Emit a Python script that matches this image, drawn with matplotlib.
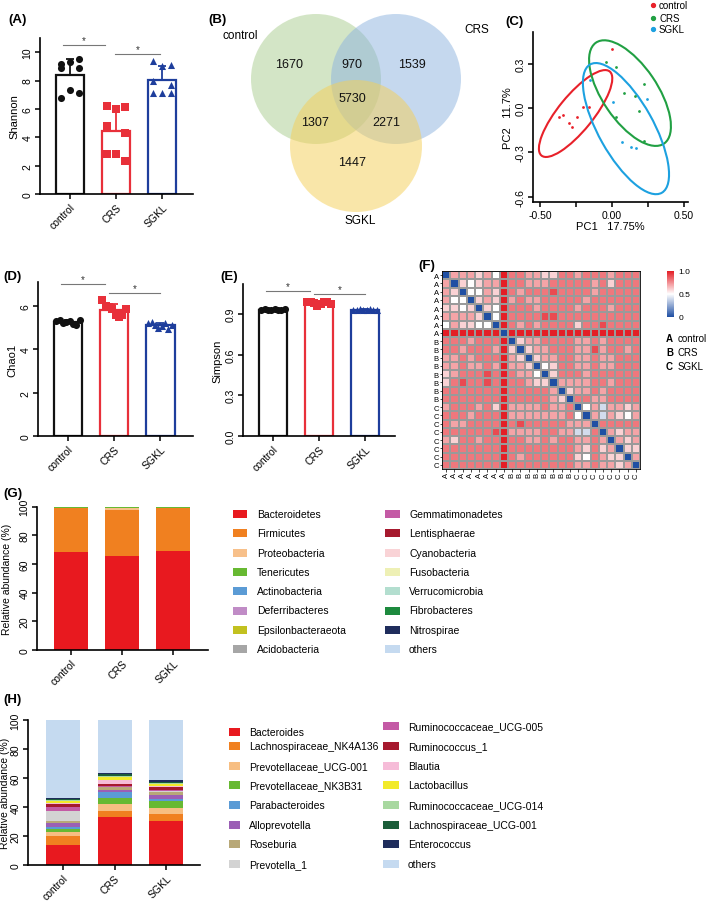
import numpy as np
import matplotlib
matplotlib.use('Agg')
import matplotlib.pyplot as plt
from matplotlib.patches import Circle, Ellipse, Rectangle
from matplotlib.colors import LinearSegmentedColormap
from matplotlib.lines import Line2D

plt.rcParams['font.family'] = ['Liberation Sans', 'DejaVu Sans']

# ---------------- DATA ----------------
groups = ['control', 'CRS', 'SGKL']

shannon_control = [9.2, 9.3, 9.5, 8.9, 8.9, 6.8, 7.3, 7.1]
shannon_crs = [6.2, 6.0, 6.1, 4.8, 4.3, 2.8, 2.8, 2.3]
shannon_sgkl = [9.4, 9.0, 9.1, 8.0, 7.7, 7.1, 7.1, 7.1]

chao1_control = [5.30, 5.35, 5.20, 5.25, 5.30, 5.15, 5.10, 5.35]
chao1_crs = [6.27, 6.00, 5.95, 5.85, 5.60, 5.50, 5.60, 5.85]
chao1_sgkl = [5.20, 5.25, 5.10, 5.00, 5.05, 5.20, 4.95, 5.10]

simpson_control = [0.930, 0.935, 0.930, 0.925, 0.935, 0.930, 0.930, 0.935]
simpson_crs = [0.985, 0.990, 0.980, 0.960, 0.975, 0.985, 0.990, 0.970]
simpson_sgkl = [0.930, 0.930, 0.935, 0.930, 0.930, 0.935, 0.930, 0.925]

venn_sets = ['control', 'CRS', 'SGKL']
venn_counts = {'control_only': 1670, 'control_CRS': 970, 'CRS_only': 1539,
               'all': 5730, 'control_SGKL': 1307, 'CRS_SGKL': 2271, 'SGKL_only': 1447}

pca_control_x = [0.00, -0.37, -0.34, -0.30, -0.28, -0.24, -0.20, -0.16]
pca_control_y = [0.40, -0.06, -0.05, -0.10, -0.13, -0.06, 0.01, 0.01]
pca_crs_x = [-0.04, 0.03, 0.08, 0.16, 0.22, 0.19, 0.03, 0.22]
pca_crs_y = [0.31, 0.28, 0.10, 0.08, 0.16, -0.02, -0.06, -0.22]
pca_sgkl_x = [-0.15, 0.01, 0.24, 0.07, 0.13, 0.17]
pca_sgkl_y = [0.19, 0.04, 0.06, -0.23, -0.26, -0.27]
# ellipse: centre x, centre y, major, minor, angle
ell_control = [-0.253, -0.037, 0.74, 0.24, 50]
ell_crs = [0.125, 0.101, 0.83, 0.38, -55]
ell_sgkl = [0.097, -0.139, 1.00, 0.38, -60]

# heatmap lower triangle (digit d -> (d+1)/10), rows A1..A8, B1..B8, C1..C8; diagonal = 0
heat_rows = ['A'] * 8 + ['B'] * 8 + ['C'] * 8
heat_lower = [
    "", "6", "65", "644", "5545", "66665", "465544", "9999999",
    "77767779", "776777695", "6676777965", "66766769665", "567778797664",
    "5787787977655", "77777779777776", "777777797777765",
    "6777675966667667", "77767779666666674", "766777797877777666",
    "7777778966667766337", "65776779776676776676", "777777797777777765756",
    "7777777976777777547655", "77777779777777776676656",
]

phyla = ['Bacteroidetes', 'Firmicutes', 'Proteobacteria', 'Tenericutes',
         'Actinobacteria', 'Deferribacteres', 'Epsilonbacteraeota', 'Acidobacteria',
         'Gemmatimonadetes', 'Lentisphaerae', 'Cyanobacteria', 'Fusobacteria',
         'Verrucomicrobia', 'Fibrobacteres', 'Nitrospirae', 'others']
phyla_colors = ['#E8191F', '#F08020', '#F7C08A', '#67B932', '#5B9BD5', '#C08CC6',
                '#C2C120', '#A6A6A6', '#C45AA5', '#A6192E', '#F9D3D6', '#EEF0B5',
                '#B3DECF', '#1D8A3E', '#1F2D5C', '#C5DAF0']
phyla_control = [68.5, 30.3, 0.2, 0.8, 0.05, 0.02, 0.02, 0.01, 0.01, 0.01, 0.01, 0.01, 0.01, 0.01, 0.01]
phyla_crs = [65.8, 31.5, 2.0, 0.3, 0.05, 0.02, 0.02, 0.01, 0.01, 0.01, 0.01, 0.01, 0.01, 0.01, 0.01]
phyla_sgkl = [69.0, 29.8, 0.3, 0.7, 0.05, 0.02, 0.02, 0.01, 0.01, 0.01, 0.01, 0.01, 0.01, 0.01, 0.01]

genera = ['Bacteroides', 'Lachnospiraceae_NK4A136', 'Prevotellaceae_UCG-001',
          'Prevotellaceae_NK3B31', 'Parabacteroides', 'Alloprevotella', 'Roseburia',
          'Prevotella_1', 'Ruminococcaceae_UCG-005', 'Ruminococcus_1', 'Blautia',
          'Lactobacillus', 'Ruminococcaceae_UCG-014', 'Lachnospiraceae_UCG-001',
          'Enterococcus', 'others']
genera_colors = ['#E8191F', '#F08020', '#F7BE82', '#67B932', '#5B9BD5', '#9B5FB5',
                 '#B8A878', '#D3D3D3', '#C45AA5', '#A6192E', '#F6BCD8', '#F2EA2A',
                 '#A8D8A0', '#1B5E3A', '#1F2D5C', '#C5DAF0']
genera_control = [14.0, 5.7, 3.3, 2.0, 1.5, 2.5, 1.5, 7.0, 2.5, 1.8, 1.2, 1.0, 1.0, 0.6, 0.6]
genera_crs = [33.0, 4.5, 4.5, 4.0, 4.5, 1.0, 2.0, 0.5, 0.8, 1.0, 2.8, 2.2, 0.8, 1.2, 0.4]
genera_sgkl = [30.5, 4.5, 4.5, 4.8, 1.2, 3.0, 2.0, 0.5, 0.7, 2.0, 0.8, 1.2, 0.8, 0.8, 1.6]

# ---------------- FIGURE ----------------
W, H = 709, 903
fig = plt.figure(figsize=(W / 100, H / 100), dpi=100)


def rect(x0, y0, x1, y1):
    return [x0 / W, 1 - y1 / H, (x1 - x0) / W, (y1 - y0) / H]


def fx(x):
    return x / W


def fy(y):
    return 1 - y / H


def panel_label(x, y, s):
    fig.text(fx(x), fy(y), s, fontsize=9.5, fontweight='bold', ha='left', va='center')


def style_axes(ax):
    for s in ['top', 'right']:
        ax.spines[s].set_visible(False)
    for s in ['left', 'bottom']:
        ax.spines[s].set_linewidth(1.2)
    ax.tick_params(axis='both', length=3.5, width=1.1, labelsize=7.5, pad=2)
    for lab in ax.get_yticklabels():
        lab.set_rotation(90)
        lab.set_va('center')


bar_colors = ['#111111', '#E8303A', '#1E3E9C']
bar_markers = ['o', 's', '^']
scatter_off_a = np.array([-0.2, 0.0, 0.2, -0.2, 0.2, -0.2, 0.0, 0.2])
scatter_off_row = np.array([-0.26, -0.18, -0.11, -0.04, 0.04, 0.11, 0.18, 0.26])


def bar_panel(ax, data, xlim, ylim, yticks, yticklabels, ylabel, sigs, offs, ms):
    for i, vals in enumerate(data):
        m = np.mean(vals)
        sd = np.std(vals, ddof=1)
        ax.bar(i, m, width=0.63, facecolor='white', edgecolor=bar_colors[i], linewidth=1.6, zorder=1)
        ax.errorbar(i, m, yerr=[[0], [sd]], fmt='none', ecolor=bar_colors[i], capsize=3,
                    elinewidth=1.3, capthick=1.3, zorder=2)
        ax.scatter(i + offs, vals, marker=bar_markers[i], color=bar_colors[i], s=ms,
                   zorder=3, linewidths=0)
    for (xa, xb, yv) in sigs:
        ax.plot([xa, xb], [yv, yv], color='#777777', lw=0.8, clip_on=False)
        ax.text((xa + xb) / 2, yv, '*', ha='center', va='bottom', fontsize=7, color='#333333')
    ax.set_xlim(*xlim)
    ax.set_ylim(*ylim)
    ax.set_yticks(yticks)
    ax.set_yticklabels(yticklabels)
    ax.set_xticks(range(3))
    ax.set_xticklabels(groups, rotation=45, ha='right', rotation_mode='anchor', fontsize=8)
    ax.set_ylabel(ylabel, fontsize=8, labelpad=2)
    style_axes(ax)


# ---- Panel A ----
axA = fig.add_axes(rect(40, 39, 193, 195))
bar_panel(axA, [shannon_control, shannon_crs, shannon_sgkl], (-0.652, 2.674), (0, 11),
          [0, 2, 4, 6, 8, 10], ['0', '2', '4', '6', '8', '10'], 'Shannon',
          [(-0.15, 0.76, 10.5), (0.98, 1.96, 9.85)], scatter_off_a, 26)
panel_label(8, 20, '(A)')

# ---- Panel D ----
axD = fig.add_axes(rect(38, 283, 193, 437))
bar_panel(axD, [chao1_control, chao1_crs, chao1_sgkl], (-0.652, 2.717), (0, 7.1),
          [0, 2, 4, 6], ['0', '2', '4', '6'], 'Chao1',
          [(-0.15, 0.8, 7.0), (0.9, 2.0, 6.6)], scatter_off_row, 26)
panel_label(3, 277, '(D)')

# ---- Panel E ----
axE = fig.add_axes(rect(243, 285, 395, 437))
bar_panel(axE, [simpson_control, simpson_crs, simpson_sgkl], (-0.652, 2.652), (0, 1.12),
          [0, 0.3, 0.6, 0.9], ['0.0', '0.3', '0.6', '0.9'], 'Simpson',
          [(-0.15, 0.8, 1.07), (0.9, 2.0, 1.045)], scatter_off_row, 26)
panel_label(220, 277, '(E)')

# ---- Panel B (Venn) ----
axB = fig.add_axes(rect(200, 0, 500, 235))
axB.set_xlim(200, 500)
axB.set_ylim(235, 0)
axB.axis('off')
axB.add_patch(Circle((316, 80), 65, facecolor='#A9CC8E', alpha=0.5, edgecolor='none'))
axB.add_patch(Circle((396, 80), 65, facecolor='#8CB3DF', alpha=0.5, edgecolor='none'))
axB.add_patch(Circle((356, 147), 66, facecolor='#F5CF55', alpha=0.5, edgecolor='none'))
venn_pos = {'control_only': (289, 65), 'control_CRS': (352, 65), 'CRS_only': (412, 65),
            'all': (352, 99), 'control_SGKL': (315, 123), 'CRS_SGKL': (386, 123),
            'SGKL_only': (352, 163)}
for k, v in venn_counts.items():
    axB.text(*venn_pos[k], str(v), ha='center', va='center', fontsize=9, color='#111111')
axB.text(240, 36, venn_sets[0], ha='center', va='center', fontsize=8.5)
axB.text(477, 30, venn_sets[1], ha='center', va='center', fontsize=8.5)
axB.text(360, 221, venn_sets[2], ha='center', va='center', fontsize=8.5)
panel_label(208, 20, '(B)')

# ---- Panel C (PCA) ----
axC = fig.add_axes(rect(533, 33, 688, 203))
pca_cols = ['#E8212A', '#21A043', '#1DA1E0']
for (xs, ys, el, c) in [(pca_control_x, pca_control_y, ell_control, pca_cols[0]),
                        (pca_crs_x, pca_crs_y, ell_crs, pca_cols[1]),
                        (pca_sgkl_x, pca_sgkl_y, ell_sgkl, pca_cols[2])]:
    axC.scatter(xs, ys, s=4, color=c, linewidths=0, zorder=3)
    axC.add_patch(Ellipse((el[0], el[1]), el[2], el[3], angle=el[4], facecolor='none',
                          edgecolor=c, lw=1.5, zorder=2))
axC.set_xlim(-0.549, 0.528)
axC.set_ylim(-0.635, 0.514)
axC.set_xticks([-0.5, -0.25, 0, 0.25, 0.5])
axC.set_xticklabels(['-0.50', '', '0.00', '', '0.50'])
axC.set_yticks([-0.6, -0.3, 0.0, 0.3])
axC.set_yticklabels(['-0.6', '-0.3', '0.0', '0.3'])
axC.set_xlabel('PC1   17.75%', fontsize=8, labelpad=1)
axC.set_ylabel('PC2   11.7%', fontsize=8, labelpad=2)
style_axes(axC)
panel_label(505, 22, '(C)')
for yy, lab, c in zip([6, 18.5, 30], groups, pca_cols):
    fig.add_artist(Line2D([fx(653)], [fy(yy)], marker='o', markersize=2.8, color=c,
                          linestyle='none', transform=fig.transFigure))
    fig.text(fx(659), fy(yy), lab, fontsize=7, va='center', ha='left')

# ---- Panel F (heatmap) ----
n = len(heat_rows)
M = np.zeros((n, n))
for i, row in enumerate(heat_lower):
    for j, ch in enumerate(row):
        M[i, j] = (int(ch) + 1) / 10.0
        M[j, i] = (int(ch) + 1) / 10.0
cmap = LinearSegmentedColormap.from_list('bwr2', ['#1F4FA3', '#FFFFFF', '#E41E26'])
axF = fig.add_axes(rect(442, 272, 640, 470))
mesh = axF.pcolormesh(np.arange(n + 1), np.arange(n + 1), M, cmap=cmap, vmin=0, vmax=1,
                      edgecolors='#9A9A9A', linewidth=0.3)
axF.set_xlim(0, n)
axF.set_ylim(n, 0)
axF.set_xticks(np.arange(n) + 0.5)
axF.set_yticks(np.arange(n) + 0.5)
axF.set_xticklabels(heat_rows, rotation=90, fontsize=5.5)
axF.set_yticklabels(heat_rows, fontsize=5.5)
axF.tick_params(length=1.8, width=0.5, pad=0.5)
for s in axF.spines.values():
    s.set_linewidth(0.6)
cax = fig.add_axes(rect(667, 272, 674, 318))
cb = fig.colorbar(mesh, cax=cax, ticks=[0, 0.5, 1.0])
cb.ax.set_yticklabels(['0', '0.5', '1.0'])
cb.ax.tick_params(labelsize=6, length=0, pad=3)
cb.outline.set_visible(False)
panel_label(418, 266, '(F)')
for yy, letter, lab in zip([339, 353, 367], ['A', 'B', 'C'], groups):
    fig.text(fx(666), fy(yy), letter, fontsize=7, fontweight='bold', va='center')
    fig.text(fx(678), fy(yy), lab, fontsize=7, va='center')


# ---- stacked bars ----
def stacked(ax, values_by_group, colors, xlim, width, label_x):
    data = np.array(values_by_group)  # groups x taxa
    others = 100 - data.sum(axis=1)
    full = np.column_stack([data, others])
    bottom = np.zeros(3)
    for k in range(full.shape[1]):
        ax.bar(range(3), full[:, k], bottom=bottom, width=width, color=colors[k], linewidth=0)
        bottom += full[:, k]
    ax.set_xlim(*xlim)
    ax.set_ylim(0, 100)
    ax.set_yticks([0, 20, 40, 60, 80, 100])
    ax.set_xticks(range(3))
    ax.set_xticklabels(groups, rotation=45, ha='right', rotation_mode='anchor', fontsize=8)
    ax.set_ylabel('Relative abundance (%)', fontsize=7.5)
    ax.yaxis.set_label_coords(label_x, 0.5)
    style_axes(ax)


def manual_legend(names, colors, ys_cols, patch_x, patch_w, text_x, ph=8):
    for k, (nm, c) in enumerate(zip(names, colors)):
        col = k // 8
        row = k % 8
        y = ys_cols[col][row]
        fig.add_artist(Rectangle((fx(patch_x[col]), fy(y + ph / 2)), patch_w[col] / W, ph / H,
                                 transform=fig.transFigure, facecolor=c, edgecolor='none'))
        fig.text(fx(text_x[col]), fy(y), nm, fontsize=7.5, va='center', ha='left')


axG = fig.add_axes(rect(37, 507.5, 208, 651))
stacked(axG, [phyla_control, phyla_crs, phyla_sgkl], phyla_colors, (-0.667, 2.686), 0.667,
        (12 - 37) / 171)
panel_label(3, 494, '(G)')
g_rows = [515 + 19.3 * r for r in range(8)]
manual_legend(phyla, phyla_colors, [g_rows, g_rows], [233, 385], [14, 15], [257, 409])

axH = fig.add_axes(rect(28, 721, 200, 866))
stacked(axH, [genera_control, genera_crs, genera_sgkl], genera_colors, (-0.68, 2.66), 0.66,
        (10 - 28) / 172)
panel_label(3, 700, '(H)')
h_col1 = [733, 747, 767, 786, 806, 826, 845, 865]
h_col2 = [727, 747, 767, 786, 806, 826, 845, 865]
manual_legend(genera, genera_colors, [h_col1, h_col2], [229, 383], [11, 16], [249, 408])

fig.savefig('out.png', dpi=100)
